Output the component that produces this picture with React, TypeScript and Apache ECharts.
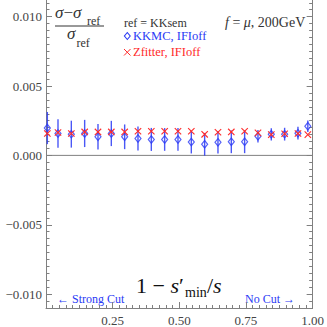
import React, { useEffect, useRef } from "react";
import * as echarts from "echarts";

// ---- data ----
const xValues = [0.005, 0.045, 0.095, 0.145, 0.195, 0.245, 0.295, 0.345, 0.395, 0.445, 0.495, 0.545, 0.595, 0.645, 0.695, 0.745, 0.795, 0.845, 0.895, 0.945, 0.982];
const kkmcValues = [0.00197, 0.00158, 0.00153, 0.00158, 0.00134, 0.00158, 0.00134, 0.00122, 0.00115, 0.00115, 0.00115, 0.00096, 0.0008, 0.00094, 0.00098, 0.00098, 0.00138, 0.00152, 0.00153, 0.0016, 0.0021];
const kkmcErrors = [0.00116, 0.00103, 0.00097, 0.00098, 0.00092, 0.00091, 0.00089, 0.00086, 0.00083, 0.00082, 0.00082, 0.00082, 0.00082, 0.00081, 0.00082, 0.00082, 0.00045, 0.00044, 0.00046, 0.00046, 0.00042];
const zfitterValues = [0.00158, 0.00165, 0.00158, 0.00169, 0.00169, 0.00169, 0.00169, 0.00174, 0.00174, 0.00174, 0.00174, 0.00174, 0.00152, 0.00167, 0.00169, 0.00174, 0.00162, 0.0015, 0.00156, 0.00158, 0.0015];
const xTickLabels = [0.25, 0.5, 0.75, 1.0];
const yTickLabels = [-0.01, -0.005, 0, 0.005, 0.01];
const zeroLine = [[0, 0], [1, 0]];

const X_MIN = 0;
const X_MAX = 1;
const Y_MIN = -0.011;
const Y_MAX = 0.0112;
const X_MINOR_STEP = 0.025;
const Y_MINOR_STEP = 0.0005;

const FONT = "'Liberation Serif', 'DejaVu Serif', serif";
const BLUE = "#2a3af5";
const RED = "#ff2a2a";
const GRAY = "#808080";
const DARK = "#333";

function steps(min: number, max: number, step: number): number[] {
  const out: number[] = [];
  const n0 = Math.ceil(min / step - 1e-9);
  const n1 = Math.floor(max / step + 1e-9);
  for (let i = n0; i <= n1; i++) out.push(+(i * step).toFixed(6));
  return out;
}

function fmtY(v: number): string {
  const s = Math.abs(v).toFixed(3);
  return v < -1e-12 ? "\u2212" + s : s;
}

export default function App() {
  const ref = useRef<HTMLDivElement>(null);

  useEffect(() => {
    if (!ref.current) return;
    const chart = echarts.init(ref.current, undefined, { renderer: "svg" });

    const xMinor = steps(X_MIN, X_MAX, X_MINOR_STEP);
    const yMinor = steps(Y_MIN, Y_MAX, Y_MINOR_STEP);

    const baseX = {
      type: "value" as const,
      min: X_MIN,
      max: X_MAX,
      gridIndex: 0,
      position: "bottom" as const,
      splitLine: { show: false },
    };
    const baseY = {
      type: "value" as const,
      min: Y_MIN,
      max: Y_MAX,
      gridIndex: 0,
      splitLine: { show: false },
    };

    const option: any = {
      animation: false,
      backgroundColor: "#fff",
      grid: { left: 46, right: 12, top: -1, bottom: 17, containLabel: false },
      xAxis: [
        {
          ...baseX,
          axisLine: { show: true, onZero: false, lineStyle: { color: GRAY, width: 1 } },
          axisTick: { show: true, inside: true, length: 6, customValues: xTickLabels, lineStyle: { color: GRAY } },
          axisLabel: {
            show: true,
            customValues: xTickLabels,
            formatter: (v: number) => v.toFixed(2),
            color: "#444",
            fontFamily: FONT,
            fontSize: 13,
            margin: 6,
          },
        },
        {
          ...baseX,
          axisLine: { show: false, onZero: false },
          axisTick: { show: true, inside: true, length: 3, customValues: xMinor, lineStyle: { color: GRAY } },
          axisLabel: { show: false },
        },
      ],
      yAxis: [
        {
          ...baseY,
          position: "left",
          axisLine: { show: true, onZero: false, lineStyle: { color: GRAY, width: 1 } },
          axisTick: { show: true, inside: true, length: 6, customValues: yTickLabels, lineStyle: { color: GRAY } },
          axisLabel: {
            show: true,
            customValues: yTickLabels,
            formatter: fmtY,
            color: "#444",
            fontFamily: FONT,
            fontSize: 13,
            margin: 4,
          },
        },
        {
          ...baseY,
          position: "left",
          axisLine: { show: false, onZero: false },
          axisTick: { show: true, inside: true, length: 3.5, customValues: yMinor, lineStyle: { color: GRAY } },
          axisLabel: { show: false },
        },
        {
          ...baseY,
          position: "right",
          axisLine: { show: true, onZero: false, lineStyle: { color: GRAY, width: 1 } },
          axisTick: { show: true, inside: true, length: 6, customValues: yTickLabels, lineStyle: { color: GRAY } },
          axisLabel: { show: false },
        },
        {
          ...baseY,
          position: "right",
          axisLine: { show: false, onZero: false },
          axisTick: { show: true, inside: true, length: 3.5, customValues: yMinor, lineStyle: { color: GRAY } },
          axisLabel: { show: false },
        },
      ],
      series: [
        {
          type: "line",
          name: "zero",
          xAxisIndex: 0,
          yAxisIndex: 0,
          data: zeroLine,
          symbol: "none",
          lineStyle: { color: GRAY, width: 1 },
          z: 1,
          silent: true,
        },
        {
          type: "custom",
          name: "KKMC errors",
          xAxisIndex: 0,
          yAxisIndex: 0,
          data: xValues.map((x, i) => [x, kkmcValues[i], kkmcErrors[i]]),
          encode: { x: 0, y: 1 },
          renderItem: (_p: any, api: any) => {
            const x = api.value(0);
            const y = api.value(1);
            const e = api.value(2);
            const a = api.coord([x, y - e]);
            const b = api.coord([x, y + e]);
            return {
              type: "line",
              shape: { x1: a[0], y1: a[1], x2: b[0], y2: b[1] },
              style: { stroke: BLUE, lineWidth: 1.4, opacity: 0.85 },
            };
          },
          z: 2,
          silent: true,
        },
        {
          type: "scatter",
          name: "KKMC, IFIoff",
          xAxisIndex: 0,
          yAxisIndex: 0,
          data: xValues.map((x, i) => [x, kkmcValues[i]]),
          symbol: "diamond",
          symbolSize: [6, 7.5],
          itemStyle: { color: "rgba(255,255,255,0)", borderColor: BLUE, borderWidth: 1.2 },
          z: 3,
          silent: true,
        },
        {
          type: "custom",
          name: "Zfitter, IFIoff",
          xAxisIndex: 0,
          yAxisIndex: 0,
          data: xValues.map((x, i) => [x, zfitterValues[i]]),
          encode: { x: 0, y: 1 },
          renderItem: (_p: any, api: any) => {
            const c = api.coord([api.value(0), api.value(1)]);
            const h = 3.2;
            const st = { stroke: RED, lineWidth: 1.1 };
            return {
              type: "group",
              children: [
                { type: "line", shape: { x1: c[0] - h, y1: c[1] - h, x2: c[0] + h, y2: c[1] + h }, style: st },
                { type: "line", shape: { x1: c[0] - h, y1: c[1] + h, x2: c[0] + h, y2: c[1] - h }, style: st },
              ],
            };
          },
          z: 4,
          silent: true,
        },
      ],
      graphic: [
        // y-axis title as a fraction
        {
          type: "text",
          x: 55,
          y: 12.5,
          style: {
            text: "{i|\u03C3}\u2212{i|\u03C3}",
            font: `17px ${FONT}`,
            fill: DARK,
            verticalAlign: "middle",
            textVerticalAlign: "middle",
            rich: { i: { fontStyle: "italic", fontSize: 17, fontFamily: FONT, fill: DARK } },
          },
        },
        {
          type: "text",
          x: 87,
          y: 21,
          style: { text: "ref", font: `12px ${FONT}`, fill: DARK, verticalAlign: "middle", textVerticalAlign: "middle" },
        },
        { type: "line", shape: { x1: 55, y1: 26, x2: 104, y2: 26 }, style: { stroke: DARK, lineWidth: 1 } },
        {
          type: "text",
          x: 67,
          y: 33.5,
          style: { text: "\u03C3", font: `italic 17px ${FONT}`, fill: DARK, verticalAlign: "middle", textVerticalAlign: "middle" },
        },
        {
          type: "text",
          x: 76.5,
          y: 43,
          style: { text: "ref", font: `12px ${FONT}`, fill: DARK, verticalAlign: "middle", textVerticalAlign: "middle" },
        },
        // legend
        {
          type: "text",
          x: 124,
          y: 23,
          style: { text: "ref = KKsem", font: `12px ${FONT}`, fill: DARK, verticalAlign: "middle", textVerticalAlign: "middle" },
        },
        {
          type: "polygon",
          shape: { points: [[127.3, 32.5], [130.2, 36], [127.3, 39.5], [124.4, 36]] },
          style: { fill: "none", stroke: BLUE, lineWidth: 1.1 },
        },
        {
          type: "text",
          x: 133,
          y: 36,
          style: { text: "KKMC, IFIoff", font: `12.5px ${FONT}`, fill: BLUE, verticalAlign: "middle", textVerticalAlign: "middle" },
        },
        { type: "line", shape: { x1: 124, y1: 49, x2: 130.5, y2: 55.5 }, style: { stroke: RED, lineWidth: 1 } },
        { type: "line", shape: { x1: 124, y1: 55.5, x2: 130.5, y2: 49 }, style: { stroke: RED, lineWidth: 1 } },
        {
          type: "text",
          x: 133,
          y: 51.5,
          style: { text: "Zfitter, IFIoff", font: `12.5px ${FONT}`, fill: RED, verticalAlign: "middle", textVerticalAlign: "middle" },
        },
        {
          type: "text",
          x: 225,
          y: 22.5,
          style: {
            text: "{i|f} = {i|\u03BC}, 200GeV",
            font: `14px ${FONT}`,
            fill: DARK,
            verticalAlign: "middle",
            textVerticalAlign: "middle",
            rich: { i: { fontStyle: "italic", fontSize: 14, fontFamily: FONT, fill: DARK } },
          },
        },
        // x-axis title
        {
          type: "text",
          x: 136,
          y: 285.5,
          style: {
            text: "1 \u2212 {i|s}\u2032",
            font: `22px ${FONT}`,
            fill: "#111",
            verticalAlign: "middle",
            textVerticalAlign: "middle",
            rich: { i: { fontStyle: "italic", fontSize: 22, fontFamily: FONT, fill: "#111" } },
          },
        },
        {
          type: "text",
          x: 185,
          y: 292.5,
          style: { text: "min", font: `14px ${FONT}`, fill: "#111", verticalAlign: "middle", textVerticalAlign: "middle" },
        },
        {
          type: "text",
          x: 207,
          y: 285.5,
          style: {
            text: "/{i|s}",
            font: `22px ${FONT}`,
            fill: "#111",
            verticalAlign: "middle",
            textVerticalAlign: "middle",
            rich: { i: { fontStyle: "italic", fontSize: 22, fontFamily: FONT, fill: "#111" } },
          },
        },
        {
          type: "text",
          x: 57,
          y: 299,
          style: { text: "\u2190 Strong Cut", font: `12px ${FONT}`, fill: BLUE, verticalAlign: "middle", textVerticalAlign: "middle" },
        },
        {
          type: "text",
          x: 245,
          y: 299,
          style: { text: "No Cut \u2192", font: `12px ${FONT}`, fill: BLUE, verticalAlign: "middle", textVerticalAlign: "middle" },
        },
      ],
    };

    chart.setOption(option);
    return () => chart.dispose();
  }, []);

  return (
    <div
      ref={ref}
      style={{ position: "fixed", left: 0, top: 0, width: 327, height: 327, background: "#fff" }}
    />
  );
}
